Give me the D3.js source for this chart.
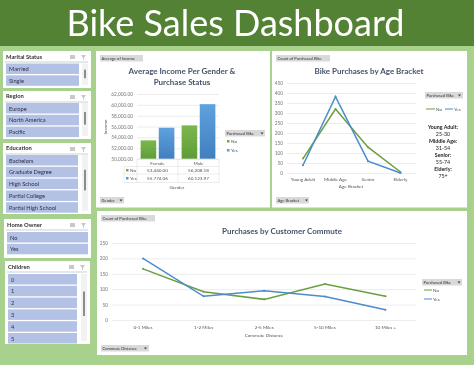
<!DOCTYPE html>
<html lang="en">
  <head>
    <meta charset="utf-8"/>
    <script src="https://d3js.org/d3.v7.min.js"></script>
    <title>Bike Sales Dashboard</title>
    <style>
      html, body { margin: 0; padding: 0; background: #a9d18e; }
      svg { display: block; filter: blur(0.3px); }
      text { font-family: Lato, sans-serif; }
    </style>
  </head>
  <body>
    <svg id="dash" width="474" height="365"></svg>
    <script>
    const genders = ["Female", "Male"];
    const purchased = ["No", "Yes"];
    const incomeNo = [53440.00, 56208.18];
    const incomeYes = [55774.06, 60123.97];
    const incomeTicks = [50000, 52000, 54000, 56000, 58000, 60000, 62000];

    const ageBrackets = ["Young Adult", "Middle Age", "Senior", "Elderly"];
    const ageNo = [72, 320, 129, 5];
    const ageYes = [39, 382, 59, 0];
    const ageTicks = [0, 50, 100, 150, 200, 250, 300, 350, 400, 450];
    const ageNotes = ["Young Adult:", "25-30", "Middle Age:", "31-54", "Senior:", "55-74", "Elderly:", "75+"];

    const commutes = ["0-1 Miles", "1-2 Miles", "2-5 Miles", "5-10 Miles", "10 Miles +"];
    const commuteNo = [166, 92, 67, 117, 77];
    const commuteYes = [200, 77, 95, 76, 33];
    const commuteTicks = [0, 50, 100, 150, 200, 250];

    const slicers = [
      {title: "Marital Status", items: ["Married", "Single"], x: 3, y: 51, w: 88, h: 37, iw: 73, top: 63.5, titleY: 8, scroll: true},
      {title: "Region", items: ["Europe", "North America", "Pacific"], x: 3, y: 91, w: 88, h: 48, iw: 73, top: 103, titleY: 7, scroll: true},
      {title: "Education", items: ["Bachelors", "Graduate Degree", "High School", "Partial College", "Partial High School"], x: 3, y: 143, w: 88, h: 71, iw: 72, top: 155, titleY: 7, scroll: true},
      {title: "Home Owner", items: ["No", "Yes"], x: 4, y: 219, w: 87, h: 39, iw: 81, top: 232, titleY: 8, scroll: false},
      {title: "Children", items: ["0", "1", "2", "3", "4", "5"], x: 5, y: 261, w: 85, h: 83, iw: 69, top: 274, titleY: 8, scroll: true}
    ];

    const green = "#70ad47", blue = "#5b9bd5";
    const lineGreen = "#6a9f3f", lineBlue = "#4a8ccc";
    const titleColor = "#44546a", tickColor = "#777";

    const svg = d3.select("#dash");

    // header
    svg.append("rect").attr("width", 474).attr("height", 46).attr("fill", "#548235");
    svg.append("text").attr("x", 235.5).attr("y", 36).attr("text-anchor", "middle")
      .attr("fill", "#fff").style("font-size", "36px")
      .text("Bike Sales Dashboard");

    // slicers
    slicers.forEach((s) => {
      const g = svg.append("g");
      g.append("rect").attr("x", s.x).attr("y", s.y).attr("width", s.w).attr("height", s.h).attr("fill", "#fff");
      g.append("text").attr("x", s.x + 3).attr("y", s.y + s.titleY).style("font-size", "5.8px")
        .style("font-weight", 700).attr("fill", "#333").text(s.title);
      g.append("line").attr("x1", s.x + 2).attr("x2", s.x + s.w - 3)
        .attr("y1", s.y + 11).attr("y2", s.y + 11).attr("stroke", "#c9cfdc");
      // slicer header icons
      g.append("rect").attr("x", s.x + s.w - 21).attr("y", s.y + 4).attr("width", 5).attr("height", 4).attr("fill", "#c8c8c8");
      g.append("path").attr("d", `M${s.x + s.w - 10} ${s.y + 4}h5l-2 3v2h-1v-2z`).attr("fill", "#c8c8c8");
      const ix = s.x + 3, ih = 10.5, step = 11.8;
      g.selectAll("rect.item").data(s.items).enter().append("rect")
        .attr("class", "item").attr("x", ix).attr("y", (d, i) => s.top + i * step)
        .attr("width", s.iw).attr("height", ih).attr("fill", "#b2c1e4");
      g.selectAll("text.item").data(s.items).enter().append("text")
        .attr("class", "item").attr("x", ix + 3).attr("y", (d, i) => s.top + i * step + 7.5)
        .style("font-size", "5.7px").attr("fill", "#2f2f45").text((d) => d);
      if (s.scroll) {
        g.append("rect").attr("x", s.x + s.w - 9).attr("y", s.top).attr("width", 6)
          .attr("height", s.h - (s.top - s.y) - 3).attr("fill", "#f2f2f2");
        g.append("rect").attr("x", s.x + s.w - 7).attr("y", s.top + (s.h - (s.top - s.y)) * 0.25).attr("width", 2)
          .attr("height", (s.h - (s.top - s.y)) * 0.35).attr("fill", "#8c8c8c");
      }
    });

    // chart panels
    const panels = [[96, 51, 174, 156.5], [272, 51, 195, 156.5], [97, 211, 370, 144]];
    svg.selectAll("rect.panel").data(panels).enter().append("rect").attr("class", "panel")
      .attr("x", (d) => d[0]).attr("y", (d) => d[1]).attr("width", (d) => d[2]).attr("height", (d) => d[3])
      .attr("fill", "#fff");

    const pivotButton = (x, y, w, label) => {
      svg.append("rect").attr("x", x).attr("y", y).attr("width", w).attr("height", 6.5).attr("fill", "#d9d9d9");
      svg.append("text").attr("x", x + 1.5).attr("y", y + 4.8).style("font-size", "4.1px").attr("fill", "#333").text(label);
    };
    const chartTitle = (x, y, label) => {
      svg.append("text").attr("x", x).attr("y", y).attr("text-anchor", "middle")
        .style("font-size", "8px").style("font-weight", 700).attr("fill", titleColor).text(label);
    };
    const smallText = (x, y, label, anchor) => {
      svg.append("text").attr("x", x).attr("y", y).attr("text-anchor", anchor || "middle")
        .style("font-size", "4.6px").attr("fill", "#555").text(label);
    };
    const yAxis = (scale, ticks, x, x2, fmt) => {
      const g = svg.append("g").attr("transform", `translate(${x},0)`)
        .call(d3.axisLeft(scale).tickValues(ticks).tickSize(x - x2).tickPadding(4).tickFormat(fmt));
      g.select(".domain").remove();
      g.selectAll("line").attr("stroke", "#ececec");
      g.selectAll("text").attr("fill", tickColor).style("font-size", "4.8px").style("font-family", "Lato, sans-serif");
    };

    // income chart
    pivotButton(100, 55, 43, "Average of Income");
    chartTitle(182, 74, "Average Income Per Gender &");
    chartTitle(182, 85, "Purchase Status");
    const incomeY = d3.scaleLinear().domain([50000, 62000]).range([159, 94]);
    const incomeX = d3.scaleBand().domain(genders).range([137, 219]);
    const incomeSub = d3.scaleBand().domain(purchased).range([0, incomeX.bandwidth()]).paddingInner(0.14).paddingOuter(0.2);
    yAxis(incomeY, incomeTicks, 219, 137, d3.format(",.2f"));
    const gradBlue = svg.append("defs").append("linearGradient").attr("id", "gBlue").attr("x2", 0).attr("y2", 1);
    gradBlue.append("stop").attr("offset", 0).attr("stop-color", "#5fa2de");
    gradBlue.append("stop").attr("offset", 1).attr("stop-color", "#3f7fbf");
    const gradGreen = svg.select("defs").append("linearGradient").attr("id", "gGreen").attr("x2", 0).attr("y2", 1);
    gradGreen.append("stop").attr("offset", 0).attr("stop-color", "#7ab84e");
    gradGreen.append("stop").attr("offset", 1).attr("stop-color", "#5f9c38");
    [[incomeNo, "No", "url(#gGreen)"], [incomeYes, "Yes", "url(#gBlue)"]].forEach(([vals, key, fill]) => {
      svg.selectAll("rect.b" + key).data(vals).enter().append("rect").attr("class", "b" + key)
        .attr("x", (d, i) => incomeX(genders[i]) + incomeSub(key))
        .attr("width", incomeSub.bandwidth())
        .attr("y", (d) => incomeY(d)).attr("height", (d) => 159 - incomeY(d)).attr("fill", fill);
    });
    // data table under the bars
    const tableLines = svg.append("g").attr("stroke", "#e4e4e4").attr("stroke-width", 0.7);
    [159, 166.5, 174, 182.5].forEach((y, i) => {
      tableLines.append("line").attr("x1", i ? 124 : 137).attr("x2", 219).attr("y1", y).attr("y2", y);
    });
    [137, 178, 219].forEach((x) => tableLines.append("line").attr("x1", x).attr("x2", x).attr("y1", 159).attr("y2", 182.5));
    tableLines.append("line").attr("x1", 124).attr("x2", 124).attr("y1", 166.5).attr("y2", 182.5);
    genders.forEach((g, i) => {
      smallText(incomeX(g) + incomeX.bandwidth() / 2, 164.5, g);
      smallText(incomeX(g) + incomeX.bandwidth() / 2, 172, d3.format(",.2f")(incomeNo[i]));
      smallText(incomeX(g) + incomeX.bandwidth() / 2, 180, d3.format(",.2f")(incomeYes[i]));
    });
    svg.append("rect").attr("x", 126).attr("y", 169).attr("width", 2.5).attr("height", 2.5).attr("fill", green);
    svg.append("rect").attr("x", 126).attr("y", 177).attr("width", 2.5).attr("height", 2.5).attr("fill", blue);
    smallText(130, 172, "No", "start");
    smallText(130, 180, "Yes", "start");
    smallText(177, 189, "Gender");
    svg.append("text").attr("transform", "translate(107,127) rotate(-90)").attr("text-anchor", "middle")
      .style("font-size", "4.6px").attr("fill", "#555").text("Income");
    pivotButton(100, 197, 24, "Gender");
    pivotButton(225, 130, 40, "Purchased Bike");
    svg.append("rect").attr("x", 227).attr("y", 140).attr("width", 2.5).attr("height", 2.5).attr("fill", green);
    svg.append("rect").attr("x", 227).attr("y", 149).attr("width", 2.5).attr("height", 2.5).attr("fill", blue);
    smallText(231, 142.5, "No", "start");
    smallText(231, 151.5, "Yes", "start");

    const drawLine = (x, y, cats, vals, color) => {
      const pts = cats.map((c, i) => [x(c), y(vals[i])]);
      svg.append("path").attr("fill", "none").attr("stroke", color).attr("stroke-width", 1.5)
        .attr("d", d3.line()(pts));
      svg.selectAll(null).data(pts).enter().append("circle")
        .attr("cx", (d) => d[0]).attr("cy", (d) => d[1]).attr("r", 1).attr("fill", color);
    };
    const xLabels = (x, cats, y) => cats.forEach((c) => smallText(x(c), y, c));

    // age chart
    pivotButton(276, 55, 54, "Count of Purchased Bike");
    chartTitle(369, 74, "Bike Purchases by Age Bracket");
    const ageY = d3.scaleLinear().domain([0, 450]).range([173, 83]);
    const ageX = d3.scalePoint().domain(ageBrackets).range([303, 400.5]);
    yAxis(ageY, ageTicks, 416, 287, d3.format("d"));
    drawLine(ageX, ageY, ageBrackets, ageNo, lineGreen);
    drawLine(ageX, ageY, ageBrackets, ageYes, lineBlue);
    xLabels(ageX, ageBrackets, 180.5);
    smallText(351, 188, "Age Bracket");
    pivotButton(276, 197, 33, "Age Bracket");
    pivotButton(425, 92, 38, "Purchased Bike");
    svg.append("line").attr("x1", 426).attr("x2", 435).attr("y1", 109).attr("y2", 109).attr("stroke", lineGreen);
    svg.append("line").attr("x1", 445).attr("x2", 453).attr("y1", 109).attr("y2", 109).attr("stroke", lineBlue);
    smallText(436, 111, "No", "start");
    smallText(454, 111, "Yes", "start");
    ageNotes.forEach((t, i) => {
      svg.append("text").attr("x", 443).attr("y", 129 + i * 7).attr("text-anchor", "middle")
        .style("font-size", "5.3px").style("font-weight", i % 2 ? 400 : 700).attr("fill", "#222").text(t);
    });

    // commute chart
    pivotButton(101, 215, 54, "Count of Purchased Bike");
    chartTitle(282, 234, "Purchases by Customer Commute");
    const comY = d3.scaleLinear().domain([0, 250]).range([320, 243]);
    const comX = d3.scalePoint().domain(commutes).range([143, 385.5]);
    yAxis(comY, commuteTicks, 416, 112, d3.format("d"));
    drawLine(comX, comY, commutes, commuteNo, lineGreen);
    drawLine(comX, comY, commutes, commuteYes, lineBlue);
    xLabels(comX, commutes, 329);
    smallText(264, 336.5, "Commute Distance");
    pivotButton(101, 345, 48, "Commute Distance");
    pivotButton(422, 279, 40, "Purchased Bike");
    svg.append("line").attr("x1", 424).attr("x2", 432).attr("y1", 290).attr("y2", 290).attr("stroke", lineGreen);
    svg.append("line").attr("x1", 424).attr("x2", 432).attr("y1", 299).attr("y2", 299).attr("stroke", lineBlue);
    smallText(433, 292, "No", "start");
    smallText(433, 301, "Yes", "start");

    // little dropdown arrows on the field buttons
    [[119.5, 199.5], [305, 199.5], [144, 347.5], [457.5, 281.5], [260.5, 132.5], [458, 94.5]].forEach(([x, y]) => {
      svg.append("path").attr("d", `M${x} ${y}h3l-1.5 2z`).attr("fill", "#444");
    });
    </script>
  </body>
</html>
